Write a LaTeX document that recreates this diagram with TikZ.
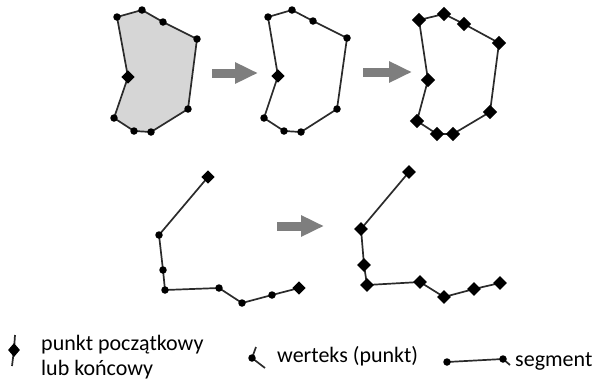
\documentclass[tikz,border=0pt]{standalone}
\usepackage{fontspec}
\setmainfont{Carlito}
\usetikzlibrary{shapes.geometric,arrows.meta,backgrounds}
\definecolor{edgecol}{HTML}{2B2B2B}
\definecolor{areacol}{HTML}{D6D6D6}
\definecolor{arrowcol}{HTML}{7E7E7E}
\tikzset{
  vtx/.style={circle,fill=black,inner sep=0pt,minimum size=7.5pt},
  endpt/.style={diamond,fill=black,inner sep=0pt,minimum width=13.5pt,minimum height=13.5pt},
  edge/.style={draw=edgecol,line width=1.7pt},
  fatarrow/.style={draw=arrowcol,line width=9pt,-{Triangle[length=23pt,width=20pt]}},
  label/.style={font=\fontsize{22}{25}\selectfont,text=black,inner sep=0pt,align=left}
}
\begin{document}
\begin{tikzpicture}[x=1pt,y=-1pt]
\useasboundingbox (0,0) rectangle (598,381);

% ---- polygon with filled interior ----
\foreach \n/\x/\y in {1/117/17,2/142/10,3/163/22,4/197/39,5/188/109,6/151/132,7/134/131,8/114/118}
  \node[vtx] (a\n) at (\x,\y) {};
\node[endpt] (a9) at (128,77) {};
\begin{scope}[on background layer]
  \path[fill=areacol,edge] (a1.center) -- (a2.center) -- (a3.center) -- (a4.center) -- (a5.center)
    -- (a6.center) -- (a7.center) -- (a8.center) -- (a9.center) -- cycle;
\end{scope}

% ---- same polygon, outline only ----
\foreach \n/\x/\y in {1/268/17,2/292/10,3/313/21,4/347/38,5/337/109,6/301/132,7/284/131,8/264/118}
  \node[vtx] (b\n) at (\x,\y) {};
\node[endpt] (b9) at (278,76) {};
\begin{scope}[on background layer]
  \draw[edge] (b1.center) -- (b2.center) -- (b3.center) -- (b4.center) -- (b5.center)
    -- (b6.center) -- (b7.center) -- (b8.center) -- (b9.center) -- cycle;
\end{scope}

% ---- polygon split into segments ----
\foreach \n/\x/\y in {1/419/20,2/444/14,3/464/24,4/499/43,5/490/112,6/453/134,7/437/134,8/417/121,9/428/80}
  \node[endpt,minimum width=14.5pt,minimum height=14.5pt] (c\n) at (\x,\y) {};
\begin{scope}[on background layer]
  \draw[edge] (c1.center) -- (c2.center) -- (c3.center) -- (c4.center) -- (c5.center)
    -- (c6.center) -- (c7.center) -- (c8.center) -- (c9.center) -- cycle;
\end{scope}

% ---- polyline ----
\node[endpt] (d1) at (208,177) {};
\foreach \n/\x/\y in {2/159/235,3/163/270,4/165/290,5/219/288,6/242/303,7/272/295}
  \node[vtx] (d\n) at (\x,\y) {};
\node[endpt] (d8) at (299,288) {};
\begin{scope}[on background layer]
  \draw[edge] (d1.center) -- (d2.center) -- (d3.center) -- (d4.center) -- (d5.center)
    -- (d6.center) -- (d7.center) -- (d8.center);
\end{scope}

% ---- polyline split into segments ----
\foreach \n/\x/\y in {1/409/172,2/361/229,3/364/265,4/367/285,5/420/282,6/444/297,7/474/289,8/500/283}
  \node[endpt,minimum width=14pt,minimum height=14pt] (e\n) at (\x,\y) {};
\begin{scope}[on background layer]
  \draw[edge] (e1.center) -- (e2.center) -- (e3.center) -- (e4.center) -- (e5.center)
    -- (e6.center) -- (e7.center) -- (e8.center);
\end{scope}

% ---- arrows ----
\coordinate (r1s) at (212,73);  \coordinate (r1e) at (258,73);
\coordinate (r2s) at (363,72);  \coordinate (r2e) at (412,72);
\coordinate (r3s) at (277,226); \coordinate (r3e) at (324,226);
\draw[fatarrow] (r1s) -- (r1e);
\draw[fatarrow] (r2s) -- (r2e);
\draw[fatarrow] (r3s) -- (r3e);

% ---- legend ----
\node[endpt,minimum width=12pt,minimum height=14pt] (k1) at (14,350) {};
\coordinate (k1t) at (15,335);
\coordinate (k1b) at (12,366);
\begin{scope}[on background layer]
  \draw[edge] (k1t) -- (k1.center) -- (k1b);
\end{scope}
\node[label,anchor=west] (t1) at (41,357.5) {punkt początkowy\\lub końcowy};

\node[vtx] (k2) at (252,358) {};
\coordinate (k2t) at (256,347);
\coordinate (k2b) at (265,368);
\begin{scope}[on background layer]
  \draw[edge] (k2t) -- (k2.center) -- (k2b);
\end{scope}
\node[label,anchor=west] (t2) at (277,356) {werteks (punkt)};

\node[vtx] (k3) at (447,362) {};
\node[vtx] (k4) at (503,359) {};
\coordinate (k4t) at (510,365);
\begin{scope}[on background layer]
  \draw[edge] (k3.center) -- (k4.center) -- (k4t);
\end{scope}
\node[label,anchor=west] (t3) at (515,361) {segment};
\end{tikzpicture}
\end{document}
